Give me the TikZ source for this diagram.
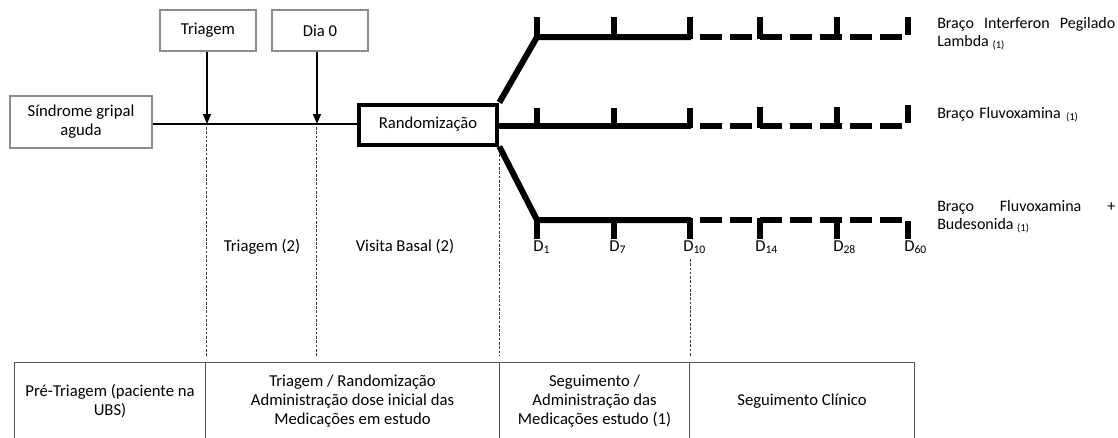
\documentclass[tikz,border=0pt]{standalone}
\usepackage{fontspec}
\setmainfont{Carlito}
\usepackage{tikz}
\usetikzlibrary{arrows.meta, positioning, calc}
\definecolor{boxgray}{RGB}{140, 140, 140}
\definecolor{tabgray}{RGB}{85, 85, 85}
\definecolor{guidegray}{RGB}{60, 60, 60}

\begin{document}
\begin{tikzpicture}[
  x=0.75pt, y=-0.75pt,
  font=\fontsize{12.5}{14.25}\selectfont,
  evbox/.style={draw=boxgray, line width=0.8pt, minimum width=72pt, minimum height=30.75pt, inner sep=0pt},
  randbox/.style={draw=black, line width=3pt, minimum width=104pt, minimum height=30pt, inner sep=0pt},
  pointer/.style={line width=0.8pt, -{Triangle[length=7.5pt, width=6pt]}},
  guide/.style={draw=guidegray, line width=0.7pt, dash pattern=on 2pt off 1.2pt},
  arm/.style={line width=4.5pt},
  armdash/.style={line width=4.5pt, dash pattern=on 16.5pt off 6pt},
  armlabel/.style={inner sep=0pt, text width=133.5pt, align=justify, anchor=north west,
    font=\fontsize{12}{13.5}\selectfont},
  daylabel/.style={inner sep=0pt, anchor=west},
  cell/.style={draw=tabgray, line width=0.8pt, inner sep=2pt, align=center, anchor=north west, minimum height=58.5pt}
]
  \useasboundingbox (0,0) rectangle (1118,437);

  % eventos no topo
  \node[evbox] (triagem) at (208,30.5) {Triagem};
  \node[evbox] (dia0) at (320,30.5) {Dia 0};
  \node[evbox, minimum width=106.5pt, minimum height=39pt, align=center] (sindrome) at (81,122) {Síndrome gripal\\aguda};
  \node[randbox] (random) at (428,124.5) {Randomização};

  \coordinate (tri) at (207,124);
  \coordinate (d0) at (317,124);
  \draw[line width=1pt] (sindrome.east |- 0,124) -- (random.west |- 0,124);
  \draw[pointer] (triagem.south -| tri) -- (tri);
  \draw[pointer] (dia0.south -| d0) -- (d0);

  % linhas guia
  \draw[guide] (206,127) -- (206,356);
  \draw[guide] (316,127) -- (316,356);
  \draw[guide] (499,150) -- (499,356);
  \draw[guide] (690,259) -- (690,356);

  % bracos
  \coordinate (armA) at (537,37);
  \coordinate (armB) at (537,125.5);
  \coordinate (armC) at (537,220);
  \draw[arm, line join=miter] (random.north east) -- (armA) -- (691,37);
  \draw[arm] (random.east |- armB) -- (691,125.5);
  \draw[arm, line join=miter] (random.south east) -- (armC) -- (691,220);
  \foreach \x in {537,614,690} {
    \draw[arm] (\x,39) -- (\x,17);
    \draw[arm] (\x,127.5) -- (\x,108);
    \draw[arm] (\x,218) -- (\x,239);
  }
  \foreach \y in {37,125.5,220}
    \draw[armdash] (700,\y) -- (903,\y);
  \foreach \x in {759.5,837} {
    \draw[arm] (\x,39) -- (\x,17);
    \draw[arm] (\x,127.5) -- (\x,107);
    \draw[arm] (\x,218) -- (\x,239);
  }
  \draw[arm] (907.5,17) -- (907.5,35);
  \draw[arm] (907.5,105) -- (907.5,123);
  \draw[arm] (907.5,221) -- (907.5,239);

  % rotulos dos dias
  \foreach \x/\d in {533/1, 609/7, 683/10, 755/14, 833/28, 904/60}
    \node[daylabel] (day\d) at (\x,247) {D\textsubscript{\d}};
  \node (tri2) at (262,247) {Triagem (2)};
  \node (basal) at (405,247) {Visita Basal (2)};

  % rotulos dos bracos
  \node[armlabel] (ifn) at (937,17) {Braço Interferon Pegilado\linebreak Lambda \textsubscript{(1)}};
  \node[armlabel, align=left] (flu) at (937,107) {Braço Fluvoxamina \textsubscript{(1)}};
  \node[armlabel] (flubud) at (937,200) {Braço Fluvoxamina +\linebreak Budesonida \textsubscript{(1)}};

  % tabela de fases
  \node[cell, minimum width=143.25pt] (fase1) at (14,362) {Pré-Triagem (paciente na\\UBS)};
  \node[cell, minimum width=220.5pt] (fase2) at (205,362) {Triagem / Randomização\\Administração dose inicial das\\Medicações em estudo};
  \node[cell, minimum width=142.5pt] (fase3) at (499,362) {Seguimento /\\Administração das\\Medicações estudo (1)};
  \node[cell, minimum width=168.75pt] (fase4) at (689,362) {Seguimento Clínico};
\end{tikzpicture}
\end{document}
